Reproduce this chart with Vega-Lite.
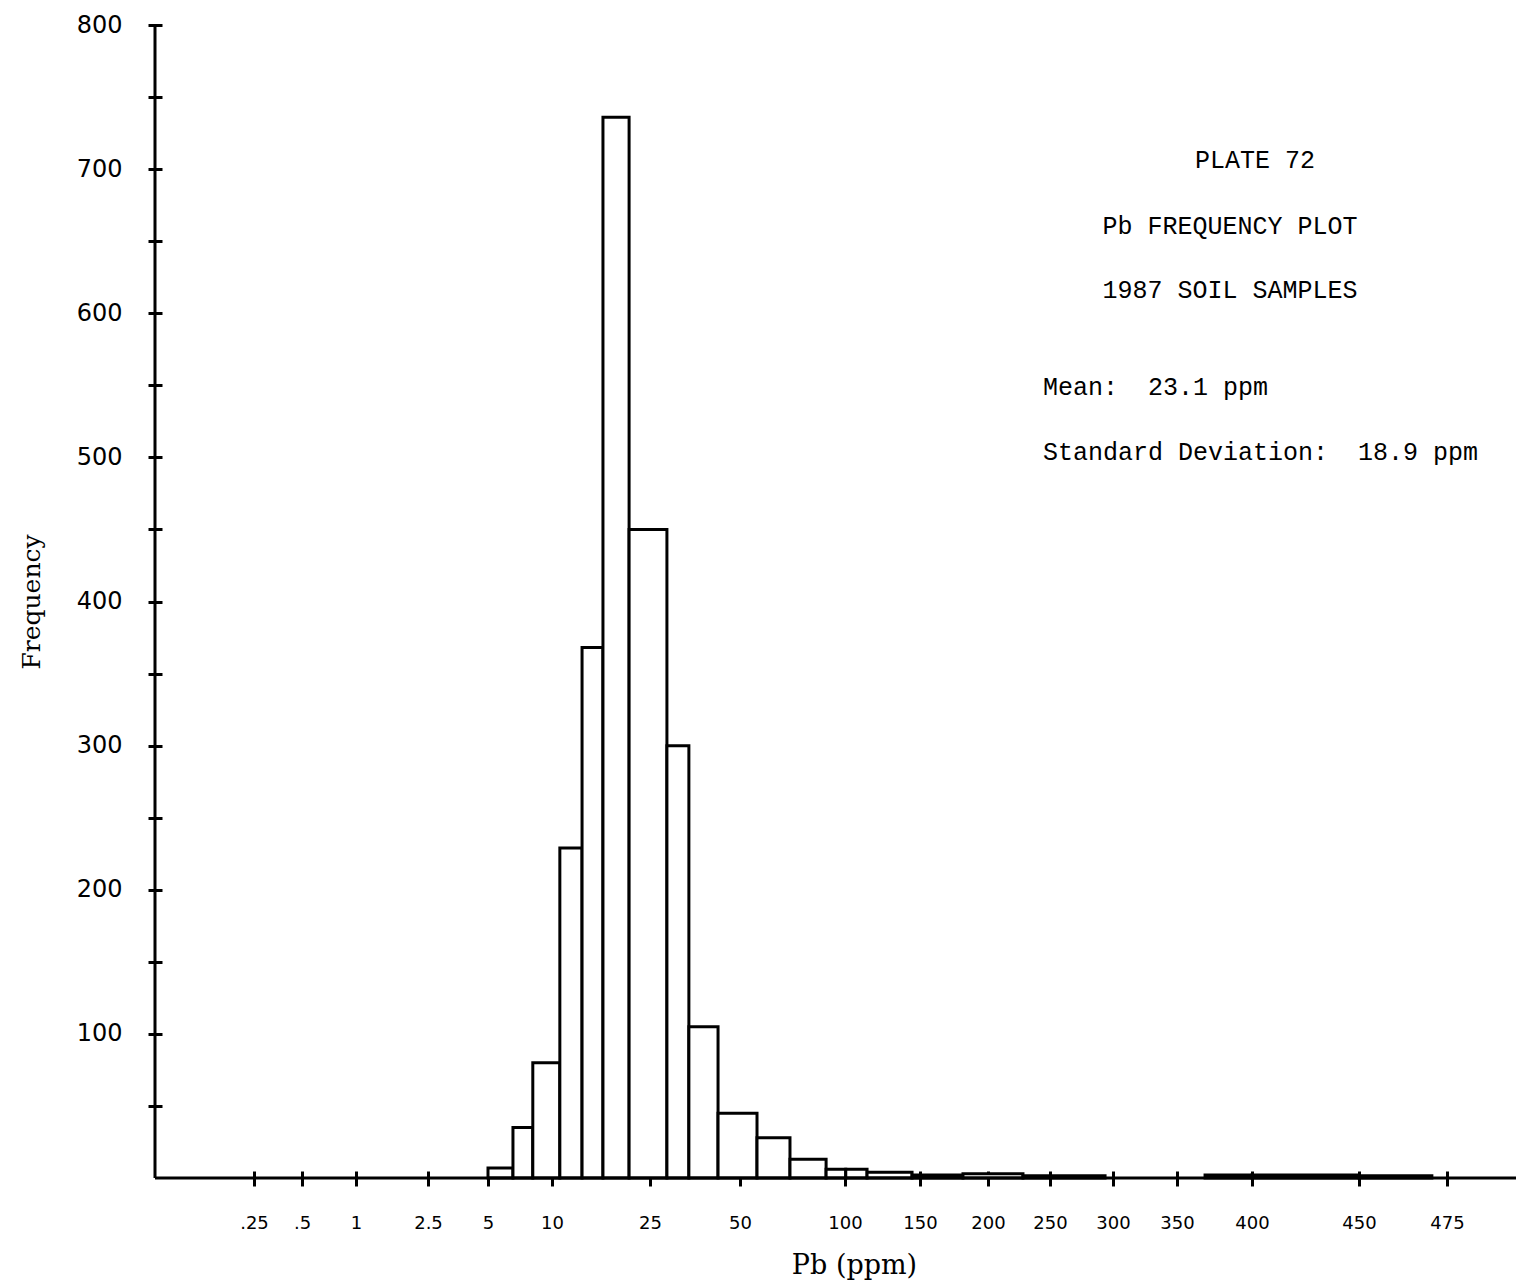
{
  "$schema": "https://vega.github.io/schema/vega-lite/v6.json",
  "width": 1361,
  "height": 1153,
  "autosize": {"type": "none"},
  "padding": {"left": 155, "top": 25, "right": 0, "bottom": 110},
  "background": "white",
  "config": {"view": {"stroke": null}, "axis": {"grid": false}},
  "datasets": {
    "bins": [
      {"pb_from": 5, "pb_to": 6.95, "frequency": 7},
      {"pb_from": 6.95, "pb_to": 8.5, "frequency": 35},
      {"pb_from": 8.5, "pb_to": 11.2, "frequency": 80},
      {"pb_from": 11.2, "pb_to": 14.6, "frequency": 229},
      {"pb_from": 14.6, "pb_to": 17.8, "frequency": 368},
      {"pb_from": 17.8, "pb_to": 21.8, "frequency": 736},
      {"pb_from": 21.8, "pb_to": 29.7, "frequency": 450},
      {"pb_from": 29.7, "pb_to": 35.8, "frequency": 300},
      {"pb_from": 35.8, "pb_to": 43.9, "frequency": 105},
      {"pb_from": 43.9, "pb_to": 58.1, "frequency": 45},
      {"pb_from": 58.1, "pb_to": 73.8, "frequency": 28},
      {"pb_from": 73.8, "pb_to": 91.0, "frequency": 13},
      {"pb_from": 91.0, "pb_to": 100.5, "frequency": 6},
      {"pb_from": 100.5, "pb_to": 114.7, "frequency": 6},
      {"pb_from": 114.7, "pb_to": 144.7, "frequency": 4},
      {"pb_from": 144.7, "pb_to": 181.6, "frequency": 2},
      {"pb_from": 181.6, "pb_to": 228.2, "frequency": 3},
      {"pb_from": 228.2, "pb_to": 293.7, "frequency": 1.5},
      {"pb_from": 368.7, "pb_to": 400, "frequency": 2},
      {"pb_from": 400, "pb_to": 450, "frequency": 2},
      {"pb_from": 450, "pb_to": 470.7, "frequency": 1.5}
    ],
    "headings": [
      {"text": "PLATE 72", "pb": 401.4, "frequency": 706},
      {"text": "Pb FREQUENCY PLOT", "pb": 385.3, "frequency": 660.5},
      {"text": "1987 SOIL SAMPLES", "pb": 385.3, "frequency": 616}
    ],
    "stats": [
      {"text": "Mean:\u00a0\u00a023.1 ppm", "pb": 244.4, "frequency": 549},
      {"text": "Standard Deviation:\u00a0\u00a018.9 ppm", "pb": 244.4, "frequency": 504}
    ],
    "frame": [{"part": "axis lines"}]
  },
  "layer": [
    {
      "data": {"name": "bins"},
      "mark": {"type": "rect", "fill": "white", "stroke": "black", "strokeWidth": 3},
      "encoding": {
        "x": {
          "field": "pb_from",
          "type": "quantitative",
          "scale": {
            "type": "linear",
            "nice": false,
            "zero": false,
            "domain": [0, 0.25, 0.5, 1, 2.5, 5, 10, 25, 50, 100, 150, 200, 250, 300, 350, 400, 450, 475, 500],
            "range": [0, 99, 147, 201, 273, 333, 397, 495, 585, 690, 765, 833, 895, 958, 1022, 1097, 1204, 1292, 1361]
          },
          "axis": {
            "values": [0.25, 0.5, 1, 2.5, 5, 10, 25, 50, 100, 150, 200, 250, 300, 350, 400, 450, 475],
            "labelExpr": "datum.value == 0.25 ? '.25' : datum.value == 0.5 ? '.5' : datum.value == 2.5 ? '2.5' : format(datum.value, 'd')",
            "domain": false,
            "offset": -7,
            "tickSize": 15,
            "tickWidth": 3,
            "tickColor": "black",
            "labelFont": "DejaVu Sans",
            "labelFontSize": 18,
            "labelColor": "black",
            "labelPadding": 28,
            "labelFlush": false,
            "labelOverlap": false,
            "title": "Pb (ppm)",
            "titleFont": "DejaVu Serif",
            "titleFontSize": 27,
            "titleFontWeight": "normal",
            "titleColor": "black",
            "titlePadding": 20,
            "titleX": 699
          }
        },
        "x2": {"field": "pb_to"},
        "y": {
          "field": "frequency",
          "type": "quantitative",
          "scale": {"domain": [0, 800], "nice": false},
          "axis": {
            "values": [50, 100, 150, 200, 250, 300, 350, 400, 450, 500, 550, 600, 650, 700, 750, 800],
            "labelExpr": "datum.value % 100 === 0 ? datum.label : ''",
            "domain": false,
            "offset": -7,
            "tickSize": 14,
            "tickWidth": 3,
            "tickColor": "black",
            "labelFont": "DejaVu Sans",
            "labelFontSize": 24,
            "labelColor": "black",
            "labelPadding": 26,
            "labelFlush": false,
            "labelOverlap": false,
            "title": "Frequency",
            "titleFont": "DejaVu Serif",
            "titleFontSize": 25,
            "titleFontWeight": "normal",
            "titleColor": "black",
            "titlePadding": 32
          }
        },
        "y2": {"datum": 0}
      }
    },
    {
      "data": {"name": "frame"},
      "mark": {"type": "rule", "stroke": "black", "strokeWidth": 3},
      "encoding": {
        "x": {"datum": 0, "type": "quantitative"},
        "y": {"datum": 0, "type": "quantitative"},
        "y2": {"datum": 800}
      }
    },
    {
      "data": {"name": "frame"},
      "mark": {"type": "rule", "stroke": "black", "strokeWidth": 3},
      "encoding": {
        "x": {"datum": 0, "type": "quantitative"},
        "x2": {"datum": 500},
        "y": {"datum": 0, "type": "quantitative"}
      }
    },
    {
      "data": {"name": "headings"},
      "mark": {"type": "text", "font": "Liberation Mono", "fontSize": 25, "align": "center", "baseline": "middle", "color": "black"},
      "encoding": {
        "x": {"field": "pb", "type": "quantitative"},
        "y": {"field": "frequency", "type": "quantitative"},
        "text": {"field": "text"}
      }
    },
    {
      "data": {"name": "stats"},
      "mark": {"type": "text", "font": "Liberation Mono", "fontSize": 25, "align": "left", "baseline": "middle", "color": "black"},
      "encoding": {
        "x": {"field": "pb", "type": "quantitative"},
        "y": {"field": "frequency", "type": "quantitative"},
        "text": {"field": "text"}
      }
    }
  ]
}
